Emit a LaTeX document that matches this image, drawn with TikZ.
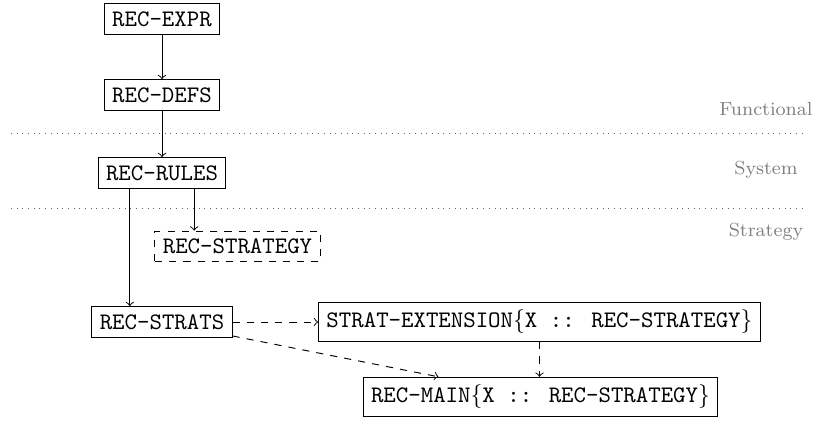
\documentclass[tikz,border=0pt]{standalone}
\usetikzlibrary{calc}
\begin{document}
\begin{tikzpicture}[x=0.4219pt,y=-0.4219pt,
  box/.style={draw,font=\ttfamily,inner sep=3.33pt},
  dbox/.style={box,dashed},
  layer/.style={font=\footnotesize,text=black!50,anchor=base},
  sep/.style={dotted,black!60},
  arr/.style={->},
  darr/.style={->,dashed}]
\useasboundingbox (0,0) rectangle (816,420);
\node[box] (expr) at (162,19) {REC-EXPR};
\node[box] (defs) at (162,95) {REC-DEFS};
\node[box] (rules) at (162,173) {REC-RULES};
\node[dbox] (strategy) at (237.5,246.5) {REC-STRATEGY};
\node[box] (strats) at (162,322) {REC-STRATS};
\node[box] (ext) at (539.5,322) {STRAT-EXTENSION$\{$X :: REC-STRATEGY$\}$};
\node[box] (main) at (540.5,397) {REC-MAIN$\{$X :: REC-STRATEGY$\}$};
\node[layer] (lf) at (766,115) {Functional};
\node[layer] (ls) at (766,174) {System};
\node[layer] (lt) at (766,236) {Strategy};
\coordinate (s1a) at (11,133);
\coordinate (s1b) at (805,133);
\coordinate (s2a) at (11,208);
\coordinate (s2b) at (805,208);
\draw[sep] (s1a) -- (s1b);
\draw[sep] (s2a) -- (s2b);
\draw[arr] (expr) -- (defs);
\draw[arr] (defs) -- (rules);
\draw[arr] ($(rules.south west)!0.25!(rules.south east)$) coordinate (ra) -- (ra |- strats.north);
\draw[arr] ($(rules.south west)!0.75!(rules.south east)$) coordinate (rb) -- (rb |- strategy.north);
\draw[darr] (strats.east) -- (strats.east -| ext.west);
\draw[darr] (strats) -- (main);
\draw[darr] (ext.south) -- (ext.south |- main.north);
\end{tikzpicture}
\end{document}
